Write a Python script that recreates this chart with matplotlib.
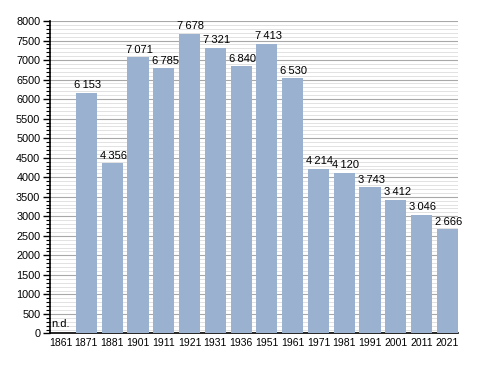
import matplotlib
matplotlib.use("Agg")
import matplotlib.pyplot as plt
from matplotlib.ticker import MultipleLocator

years = ["1861", "1871", "1881", "1901", "1911", "1921", "1931", "1936",
         "1951", "1961", "1971", "1981", "1991", "2001", "2011", "2021"]
population = [None, 6153, 4356, 7071, 6785, 7678, 7321, 6840,
              7413, 6530, 4214, 4120, 3743, 3412, 3046, 2666]

plt.rcParams["font.family"] = ["Liberation Sans", "DejaVu Sans"]

fig = plt.figure(figsize=(4.88, 3.73), dpi=100)
ax = fig.add_axes([0.1025, 0.1059, 0.836, 0.8378])

bw = 0.82
ax.set_ylim(0, 8000)
ax.set_xlim(-bw / 2, len(years) - 1 + bw / 2)
ax.yaxis.set_major_locator(MultipleLocator(500))
ax.yaxis.set_minor_locator(MultipleLocator(100))
ax.grid(axis="y", which="major", color="#a8a8a8", lw=0.8)
ax.grid(axis="y", which="minor", color="#dddddd", lw=0.6)
ax.set_axisbelow(True)

for i, v in enumerate(population):
    if v is None:
        ax.text(i - 0.37, 110, "n.d.", fontsize=8, ha="left", va="bottom")
        continue
    ax.bar(i, v, width=bw, color="#9ab2cf", zorder=3)
    label = f"{v:,}".replace(",", "\u2009")
    ax.text(i + 0.05, v + 70, label, fontsize=8, ha="center", va="bottom", zorder=4)

ax.set_xticks(range(len(years)))
ax.set_xticklabels(years, fontsize=7.5)
ax.tick_params(axis="x", length=0, pad=3)
ax.tick_params(axis="y", which="major", length=5, width=1, labelsize=7.8, pad=2)
ax.tick_params(axis="y", which="minor", length=3, width=0.8)

for s in ["top", "right"]:
    ax.spines[s].set_visible(False)
ax.spines["left"].set_linewidth(1.2)
ax.spines["bottom"].set_linewidth(1.2)

fig.savefig("out.png", dpi=100)
